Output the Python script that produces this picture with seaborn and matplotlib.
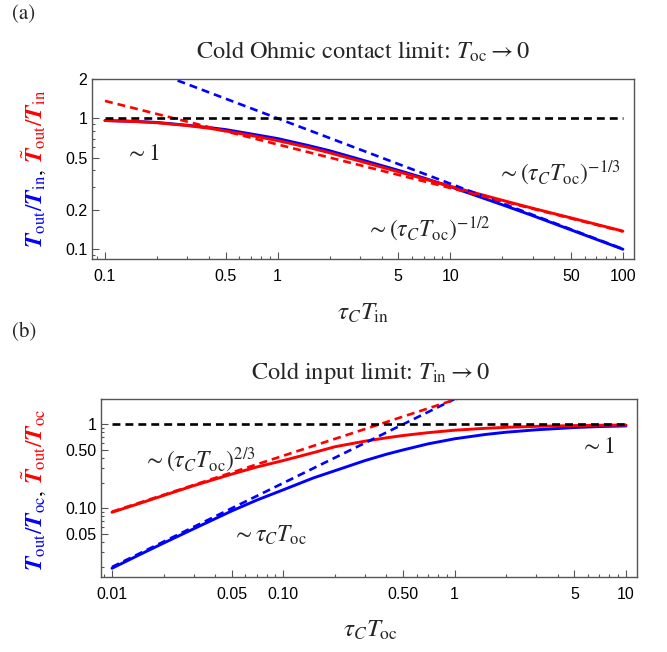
import numpy as np
import pandas as pd
import matplotlib
matplotlib.use("Agg")
import matplotlib.pyplot as plt
import seaborn as sns
from matplotlib.ticker import FixedLocator, FixedFormatter, NullFormatter
from matplotlib.transforms import IdentityTransform

# ---------------- data ----------------
# panel (a): cold Ohmic contact limit
a_x = [0.1, 0.15, 0.2, 0.3, 0.4, 0.5, 0.7, 1, 1.5, 2, 3, 5, 7, 10, 20, 30, 50, 100]
a_blue = [0.962, 0.947, 0.93, 0.885, 0.85, 0.82, 0.76, 0.70, 0.62, 0.565, 0.485, 0.40,
          0.35, 0.30, 0.218, 0.18, 0.14, 0.0995]
a_red = [0.962, 0.945, 0.925, 0.88, 0.84, 0.80, 0.74, 0.675, 0.60, 0.545, 0.47, 0.39,
         0.345, 0.302, 0.236, 0.205, 0.173, 0.137]
a_blue_dash_x = [0.1, 100]
a_blue_dash_y = [3.16, 0.1]
a_red_dash_x = [0.1, 100]
a_red_dash_y = [1.36, 0.136]
a_one_x = [0.1, 100]
a_one_y = [1, 1]
a_xticks = [0.1, 0.5, 1, 5, 10, 50, 100]
a_xticklabels = ["0.1", "0.5", "1", "5", "10", "50", "100"]
a_yticks = [0.1, 0.2, 0.5, 1, 2]
a_yticklabels = ["0.1", "0.2", "0.5", "1", "2"]

# panel (b): cold input limit
b_x = [0.01, 0.015, 0.02, 0.03, 0.05, 0.07, 0.1, 0.15, 0.2, 0.3, 0.4, 0.5, 0.7, 1,
       1.5, 2, 3, 5, 7, 10]
b_blue = [0.0193, 0.029, 0.0385, 0.057, 0.093, 0.125, 0.166, 0.23, 0.28, 0.37, 0.44,
          0.495, 0.585, 0.672, 0.755, 0.805, 0.86, 0.915, 0.94, 0.955]
b_red = [0.0896, 0.117, 0.142, 0.186, 0.255, 0.31, 0.37, 0.46, 0.54, 0.63, 0.69,
         0.735, 0.795, 0.85, 0.895, 0.92, 0.945, 0.965, 0.975, 0.98]
b_blue_dash_x = [0.01, 1.0]
b_blue_dash_y = [0.02, 2.0]
b_red_dash_x = [0.01, 1.03]
b_red_dash_y = [0.091, 2.0]
b_one_x = [0.01, 10]
b_one_y = [1, 1]
b_xticks = [0.01, 0.05, 0.1, 0.5, 1, 5, 10]
b_xticklabels = ["0.01", "0.05", "0.10", "0.50", "1", "5", "10"]
b_yticks = [0.05, 0.1, 0.5, 1]
b_yticklabels = ["0.05", "0.10", "0.50", "1"]

# ---------------- style ----------------
sns.set_style("white")
plt.rcParams["font.family"] = ["Liberation Sans", "DejaVu Sans"]
plt.rcParams["mathtext.fontset"] = "stix"

BLUE = "#0000ff"
RED = "#ff0000"
FRAME = "#555555"
SERIF = "STIXGeneral"

fig = plt.figure(figsize=(6.67, 6.52), dpi=100)
W, H = 667, 652


def axes_from_px(left, right, top, bottom):
    return fig.add_axes([left / W, 1 - bottom / H, (right - left) / W, (bottom - top) / H])


ax_a = axes_from_px(92, 634, 79, 259)
ax_b = axes_from_px(101, 637, 399, 577)

SOLID_LW = 2.1
DASH_LW = 1.9
DASH = (0, (3.0, 1.9))


def draw_panel(ax, x, blue, red, bdx, bdy, rdx, rdy, ox, oy):
    sns.lineplot(x=x, y=blue, ax=ax, color=BLUE, lw=SOLID_LW, estimator=None, sort=False)
    sns.lineplot(x=x, y=red, ax=ax, color=RED, lw=SOLID_LW, estimator=None, sort=False)
    sns.lineplot(x=bdx, y=bdy, ax=ax, color=BLUE, lw=DASH_LW, linestyle=DASH,
                 estimator=None, sort=False)
    sns.lineplot(x=rdx, y=rdy, ax=ax, color=RED, lw=DASH_LW, linestyle=DASH,
                 estimator=None, sort=False)
    sns.lineplot(x=ox, y=oy, ax=ax, color="black", lw=DASH_LW, linestyle=DASH,
                 estimator=None, sort=False)


draw_panel(ax_a, a_x, a_blue, a_red, a_blue_dash_x, a_blue_dash_y,
           a_red_dash_x, a_red_dash_y, a_one_x, a_one_y)
draw_panel(ax_b, b_x, b_blue, b_red, b_blue_dash_x, b_blue_dash_y,
           b_red_dash_x, b_red_dash_y, b_one_x, b_one_y)


def minor_list(lo_exp, hi_exp, lo, hi):
    vals = []
    for e in range(lo_exp, hi_exp + 1):
        for m in range(1, 10):
            v = m * 10.0 ** e
            if lo <= v <= hi:
                vals.append(v)
    return vals


def setup_axes(ax, xlim, ylim, xt, xtl, yt, ytl, ypad):
    ax.set_xscale("log")
    ax.set_yscale("log")
    ax.set_xlim(*xlim)
    ax.set_ylim(*ylim)
    ax.xaxis.set_major_locator(FixedLocator(xt))
    ax.xaxis.set_major_formatter(FixedFormatter(xtl))
    ax.yaxis.set_major_locator(FixedLocator(yt))
    ax.yaxis.set_major_formatter(FixedFormatter(ytl))
    ax.xaxis.set_minor_locator(FixedLocator(minor_list(-3, 2, xlim[0], xlim[1])))
    ax.yaxis.set_minor_locator(FixedLocator(minor_list(-3, 1, ylim[0], ylim[1])))
    ax.xaxis.set_minor_formatter(NullFormatter())
    ax.yaxis.set_minor_formatter(NullFormatter())
    ax.tick_params(which="both", direction="in", bottom=True, left=True,
                   top=False, right=False,
                   color=FRAME, width=0.8, labelsize=11.5, labelcolor="black")
    ax.tick_params(which="major", length=5)
    ax.tick_params(which="minor", length=2.5)
    ax.tick_params(axis="x", which="major", pad=7)
    ax.tick_params(axis="y", which="major", pad=ypad)
    for s in ax.spines.values():
        s.set_color(FRAME)
        s.set_linewidth(1.0)
        s.set_visible(True)
    ax.set_xlabel("")
    ax.set_ylabel("")


setup_axes(ax_a, (0.0841, 115.9), (0.0838, 2.0), a_xticks, a_xticklabels,
           a_yticks, a_yticklabels, 3.5)
setup_axes(ax_b, (0.00863, 11.59), (0.0152, 2.0), b_xticks, b_xticklabels,
           b_yticks, b_yticklabels, 3.0)

# ---------------- texts ----------------
def ftext(xpx, ypx, s, size, **kw):
    fig.text(xpx / W, 1 - ypx / H, s, fontsize=size, family=SERIF, **kw)


ftext(24, 19, "(a)", 15, ha="center", va="baseline")
ftext(24, 337, "(b)", 15, ha="center", va="baseline")
ftext(363, 59, r"Cold Ohmic contact limit: $T_{\rm oc} \rightarrow 0$", 17.5,
      ha="center", va="baseline")
ftext(370, 379, r"Cold input limit: $T_{\rm in} \rightarrow 0$", 17.5,
      ha="center", va="baseline")
ftext(363, 320, r"$\tau_C T_{\rm in}$", 18, ha="center", va="baseline")
ftext(370, 637, r"$\tau_C T_{\rm oc}$", 18, ha="center", va="baseline")

TS = 17
ax_a.text(0.092, 0.55, r"$\sim 1$", transform=ax_a.transAxes, fontsize=TS,
          ha="center", va="baseline")
ax_a.text(0.862, 0.433, r"$\sim (\tau_C T_{\rm oc})^{-1/3}$", transform=ax_a.transAxes,
          fontsize=TS, ha="center", va="baseline")
ax_a.text(0.62, 0.122, r"$\sim (\tau_C T_{\rm oc})^{-1/2}$", transform=ax_a.transAxes,
          fontsize=TS, ha="center", va="baseline")
ax_b.text(0.183, 0.612, r"$\sim (\tau_C T_{\rm oc})^{2/3}$", transform=ax_b.transAxes,
          fontsize=TS, ha="center", va="baseline")
ax_b.text(0.315, 0.197, r"$\sim \tau_C T_{\rm oc}$", transform=ax_b.transAxes,
          fontsize=TS, ha="center", va="baseline")
ax_b.text(0.925, 0.697, r"$\sim 1$", transform=ax_b.transAxes,
          fontsize=TS, ha="center", va="baseline")

# multicolour rotated y labels
renderer = fig.canvas.get_renderer()
BT = r"\mathbfit{T}"
try:
    _t = fig.text(0, 0, r"$" + BT + "$")
    _t.get_window_extent(renderer)
    _t.remove()
except Exception:
    try:
        _t.remove()
    except Exception:
        pass
    BT = r"\mathbf{T}"


def ylabel_pieces(sub):
    return [
        (r"$" + BT + r"_{\rm out}/" + BT + r"_{\rm " + sub + r"}$", BLUE, -1),
        (r"$,$", "black", 6),
        (r"$\tilde{" + BT + r"}_{\rm out}/" + BT + r"_{\rm " + sub + r"}$", RED, 0),
    ]


def multicolor_ylabel(xpx, ycenter_px, pieces, size):
    texts = []
    for s, c, gap in pieces:
        t = fig.text(0, 0, s, color=c, fontsize=size, rotation=90,
                     rotation_mode="anchor", ha="left", va="baseline",
                     transform=IdentityTransform())
        texts.append((t, gap))
    lens = [t.get_window_extent(renderer).height + g for t, g in texts]
    total = sum(lens)
    y = (H - ycenter_px) - total / 2
    for (t, g), l in zip(texts, lens):
        t.set_position((xpx, y))
        y += l


multicolor_ylabel(43, 169, ylabel_pieces("in"), 17)
multicolor_ylabel(43, 490, ylabel_pieces("oc"), 17)

fig.savefig("out.png", dpi=100)
